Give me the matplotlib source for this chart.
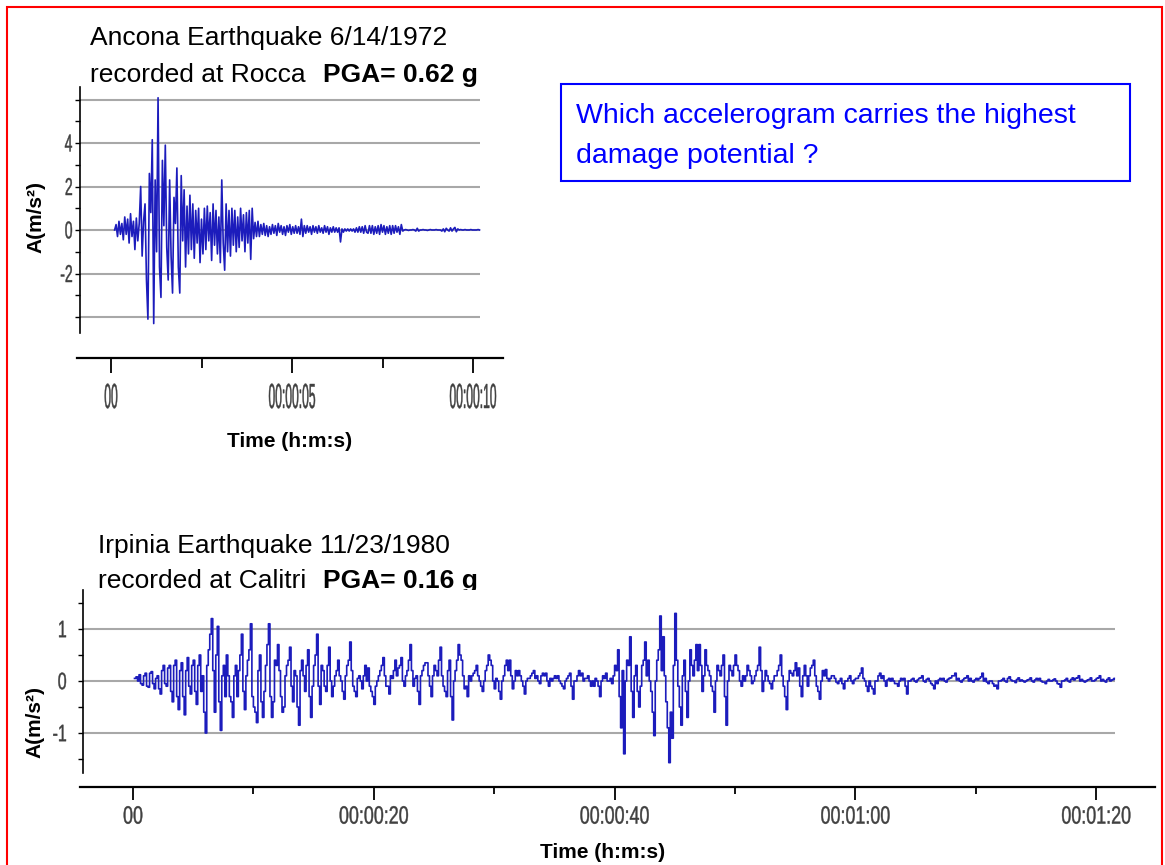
import numpy as np
import matplotlib
matplotlib.use("Agg")
import matplotlib.pyplot as plt
from matplotlib.font_manager import FontProperties
from matplotlib.patches import PathPatch, Rectangle
from matplotlib.textpath import TextPath
from matplotlib.transforms import Affine2D, IdentityTransform

plt.rcParams['font.family'] = ['Liberation Sans', 'DejaVu Sans']

W, H = 1165, 865
G = 9.81

# Ancona 6/14/1972, station Rocca -- acceleration in m/s^2, one sample every 0.04 s from t = 0.10 s
ancona_t0, ancona_dt = 0.10, 0.04
ancona_acc = [
    0.0, 0.25, -0.3, 0.4, -0.2, 0.3, -0.45, 0.6, -0.2, 0.5, -0.6, 0.75, -0.3, 0.4, -0.9, 0.55, -0.5, 0.3, 2.0, -1.2, 0.4, 1.2, -2.3, -4.1, 2.6,
    0.8, 4.15, -4.3, 2.3, -1.0, 6.08, -1.7, -3.1, 3.2, 0.2, 3.9, -0.8, -2.3, 2.3, -1.2, -2.9, 1.5, 0.3, 2.85, -1.7, -2.9, 2.5, -0.5, 1.85, -1.7,
    1.1, -1.1, 1.6, -0.9, 1.2, -1.3, 0.9, -0.6, 1.0, -1.5, 0.5, -1.1, 1.0, -0.9, 1.1, -0.5, 0.8, -1.4, 1.2, -0.7, 0.9, -1.1, 0.6, -1.5, 2.3,
    -0.6, -1.85, 1.2, -1.0, 0.9, -1.2, 1.0, -0.7, 0.9, -1.0, 0.6, -0.8, 1.0, -0.5, 0.7, -1.0, 0.8, -0.6, 0.9, -1.35, 1.0, -0.4, 0.35, -0.3, 0.4,
    -0.3, 0.25, -0.2, 0.3, -0.25, 0.2, -0.3, 0.15, -0.2, 0.25, -0.15, 0.2, -0.25, 0.3, -0.1, 0.2, -0.2, 0.15, -0.25, 0.2, -0.1, 0.25, -0.2, 0.15, -0.15,
    0.2, -0.15, 0.15, -0.2, 0.5, -0.3, 0.2, -0.15, 0.2, -0.1, 0.15, -0.2, 0.2, -0.1, 0.15, -0.15, 0.2, -0.1, 0.1, -0.15, 0.2, -0.1, 0.15, -0.2, 0.1,
    -0.1, 0.15, -0.1, 0.1, -0.1, 0.1, -0.55, 0.05, -0.1, 0.05, -0.05, 0.05, -0.05, 0.05, -0.05, 0.05, -0.1, 0.1, -0.1, 0.15, -0.1, 0.15, -0.15, 0.2, -0.1,
    -0.15, 0.2, -0.15, 0.2, -0.2, 0.15, -0.15, 0.2, -0.2, 0.25, -0.1, 0.2, -0.2, 0.15, -0.15, 0.2, -0.2, 0.2, -0.15, 0.2, -0.1, 0.15, -0.2, 0.25, -0.05,
    0.0, 0.02, 0.0, -0.02, 0.0, 0.0, 0.02, 0.0, -0.05, 0.08, -0.05, 0.0, 0.0, 0.02, 0.0, 0.0, -0.02, 0.0, 0.02, 0.0, 0.0, 0.0, 0.02, 0.0, 0.0,
    0.0, -0.05, 0.05, -0.08, 0.08, 0.0, -0.05, 0.1, -0.05, 0.05, 0.12, -0.08, 0.05, 0.0, 0.02, 0.0, 0.0, 0.02, 0.0, 0.0, 0.0, 0.02, 0.0, 0.0, 0.0,
    0.0, 0.02, 0.0,
]

# Irpinia 11/23/1980, station Calitri -- acceleration in m/s^2, one sample every 0.125 s from t = 0.125 s
# (one row = one second of record)
irpinia_t0, irpinia_dt = 0.125, 0.125
irpinia_acc = [
    0.05, 0.08, 0.0, 0.12, -0.05, -0.08, 0.1, 0.15,
    -0.1, -0.12, 0.15, 0.18, -0.05, -0.15, 0.05, 0.1,
    -0.15, -0.25, 0.2, 0.3, -0.05, -0.1, 0.25, 0.3,
    -0.2, -0.4, 0.3, 0.4, -0.3, -0.55, 0.2, 0.35,
    -0.3, -0.65, 0.2, 0.45, -0.1, -0.25, 0.3, 0.4,
    -0.2, -0.45, 0.3, 0.5, -0.2, 0.1, -0.6, -1.0,
    0.3, 0.6, 0.9, 1.2, 0.2, -0.6, 0.5, 1.05,
    -0.4, -0.95, 0.1, 0.3, -0.3, 0.5, 0.1, -0.3,
    -0.4, -0.7, 0.1, 0.3, -0.3, 0.2, 0.5, 0.9,
    -0.2, -0.55, 0.1, 0.4, 0.6, 1.1, -0.3, -0.5,
    # 10 s
    -0.6, -0.8, 0.2, 0.5, -0.4, -0.7, -0.2, 0.3,
    0.7, 1.1, -0.3, -0.7, -0.4, 0.4, 0.3, 0.7,
    0.2, -0.3, -0.6, -0.5, 0.1, 0.3, 0.4, 0.65,
    -0.1, -0.4, 0.2, 0.1, -0.5, -0.85, 0.2, 0.4,
    0.1, -0.2, 0.3, 0.6, -0.3, -0.7, -0.1, 0.3,
    0.5, 0.9, -0.1, -0.45, 0.3, 0.2, -0.1, -0.2,
    0.3, 0.65, 0.0, -0.3, -0.1, 0.1, 0.2, 0.4,
    0.1, 0.0, -0.2, -0.35, 0.1, 0.3, 0.4, 0.75,
    0.2, -0.1, -0.2, -0.3, 0.05, 0.1, 0.0, -0.15,
    0.1, 0.3, 0.0, 0.25, -0.1, -0.2, -0.3, -0.45,
    # 20 s
    -0.1, 0.0, 0.1, 0.2, 0.3, 0.45, 0.1, -0.1,
    -0.1, -0.25, 0.1, 0.05, 0.2, 0.4, 0.1, 0.25,
    0.3, 0.45, 0.0, -0.1, 0.1, 0.2, 0.4, 0.7,
    0.2, -0.1, 0.05, 0.1, -0.2, -0.45, 0.1, 0.2,
    0.3, 0.35, 0.35, 0.1, -0.1, -0.3, 0.1, 0.3,
    0.2, 0.1, 0.4, 0.65, 0.1, -0.1, -0.2, -0.3,
    0.2, 0.4, -0.3, -0.75, 0.0, 0.2, 0.4, 0.7,
    0.5, 0.4, 0.1, -0.15, -0.1, -0.3, 0.1, 0.0,
    0.1, 0.15, 0.2, 0.3, 0.1, 0.0, -0.1, -0.2,
    0.0, 0.2, 0.3, 0.5, 0.4, 0.3, 0.0, -0.15,
    # 30 s
    0.05, 0.0, -0.2, -0.35, 0.0, 0.1, 0.3, 0.4,
    0.2, 0.4, 0.1, -0.15, 0.0, 0.2, 0.1, 0.2,
    0.1, 0.0, -0.1, -0.25, 0.0, 0.05, 0.05, 0.1,
    0.15, 0.2, 0.05, 0.1, 0.0, -0.05, 0.1, 0.15,
    0.1, 0.15, 0.0, -0.1, 0.05, 0.0, 0.05, 0.1,
    0.05, 0.1, 0.0, -0.05, -0.1, -0.15, 0.0, 0.05,
    0.1, 0.15, -0.1, -0.35, 0.0, 0.0, 0.1, 0.2,
    0.1, 0.15, 0.0, 0.05, 0.05, 0.1, 0.0, -0.1,
    0.0, -0.1, 0.05, 0.0, -0.1, -0.3, 0.0, 0.1,
    0.05, 0.15, 0.0, 0.0, 0.05, -0.05, 0.1, 0.3,
    # 40 s
    0.2, 0.6, -0.3, -0.9, 0.2, -1.4, 0.0, 0.4,
    0.3, 0.85, -0.2, -0.7, 0.1, 0.3, -0.2, -0.5,
    -0.1, 0.3, 0.4, 0.75, 0.1, 0.4, 0.0, -0.2,
    -0.6, -1.05, 0.0, 0.4, 0.6, 1.25, 0.2, 0.85,
    0.1, -0.4, -0.9, -1.57, -0.6, -1.1, 0.3, 1.3,
    0.4, -0.1, -0.5, -0.85, 0.1, 0.4, -0.2, -0.7,
    0.0, 0.6, 0.3, 0.1, 0.4, 0.7, 0.2, 0.7,
    0.3, -0.2, 0.1, 0.6, 0.3, 0.2, 0.1, -0.1,
    -0.2, -0.6, 0.0, 0.3, 0.2, 0.1, 0.3, 0.5,
    -0.3, -0.85, 0.0, 0.3, 0.2, 0.1, 0.3, 0.5,
    # 50 s
    0.3, 0.2, 0.0, -0.1, 0.1, 0.0, 0.1, 0.3,
    0.2, 0.1, -0.05, 0.0, 0.1, 0.2, 0.3, 0.65,
    0.2, -0.2, 0.0, 0.2, 0.1, 0.0, -0.05, -0.15,
    0.0, 0.1, 0.1, 0.2, 0.3, 0.5, 0.1, -0.1,
    -0.3, -0.55, 0.0, 0.2, 0.15, 0.1, 0.2, 0.35,
    0.1, 0.25, -0.1, -0.3, 0.1, 0.3, 0.1, -0.1,
    0.1, 0.25, 0.3, 0.4, 0.1, -0.1, -0.2, -0.35,
    0.0, 0.2, 0.1, 0.22, 0.05, 0.0, 0.05, 0.1,
    0.1, 0.05, -0.02, -0.05, 0.0, 0.05, -0.05, -0.15,
    0.0, 0.0, 0.05, 0.1, 0.0, -0.05, 0.02, 0.05,
    # 60 s
    0.05, 0.1, 0.15, 0.25, 0.05, 0.0, -0.1, -0.2,
    0.0, -0.1, -0.15, -0.25, 0.0, 0.0, 0.1, 0.15,
    0.05, 0.1, 0.0, -0.1, 0.02, 0.05, 0.0, 0.05,
    0.0, -0.05, -0.05, -0.1, 0.0, 0.05, 0.02, 0.05,
    -0.1, -0.25, 0.0, 0.0, 0.03, 0.05, 0.0, -0.02,
    0.02, 0.05, 0.06, 0.1, 0.0, -0.02, 0.03, 0.05,
    0.0, -0.05, -0.08, -0.15, 0.0, -0.05, 0.02, 0.05,
    0.02, 0.05, 0.0, -0.02, 0.03, 0.05, 0.06, 0.1,
    0.1, 0.15, 0.02, 0.05, 0.0, -0.02, 0.02, 0.05,
    0.06, 0.1, 0.0, 0.05, 0.0, -0.02, 0.02, 0.05,
    # 70 s
    0.02, 0.05, 0.08, 0.15, 0.0, 0.05, -0.02, -0.05,
    0.0, 0.0, -0.05, -0.1, -0.08, -0.15, 0.0, 0.0,
    0.02, 0.05, 0.0, -0.02, 0.05, 0.08, 0.02, 0.0,
    0.0, -0.03, 0.03, 0.06, 0.0, 0.02, 0.0, -0.02,
    0.0, 0.02, 0.03, 0.06, 0.0, -0.02, 0.02, 0.05,
    0.02, 0.05, 0.0, -0.02, -0.02, -0.05, 0.0, 0.03,
    0.0, 0.0, 0.02, 0.04, 0.0, -0.05, -0.06, -0.12,
    0.0, 0.0, 0.02, 0.05, 0.0, -0.02, 0.03, 0.06,
    0.02, 0.05, 0.06, 0.1, 0.0, 0.03, 0.0, -0.02,
    0.0, 0.02, 0.03, 0.06, 0.0, 0.0, 0.02, 0.05,
    # 80 s
    0.06, 0.1, 0.0, 0.03, 0.0, -0.02, 0.03, 0.06,
    0.0, 0.02, 0.03, 0.05,
]

top_major = [0, 5, 10]
top_minor = [2.5, 7.5]
top_yticks = [-4, -3, -2, -1, 0, 1, 2, 3, 4, 5, 6]
top_ylabels = [4, 2, 0, -2]
top_grid = [6, 4, 2, 0, -2, -4]

bot_major = [0, 20, 40, 60, 80]
bot_minor = [10, 30, 50, 70]
bot_yticks = [-1.5, -1, -0.5, 0, 0.5, 1, 1.5]
bot_ylabels = [1, 0, -1]
bot_grid = [1, 0, -1]

TRACE = '#1c1cbc'
GRID = '#a8a8a8'
TICKTXT = '#404040'
tick_font = FontProperties(family='Liberation Sans')


def hms(sec):
    if sec == 0:
        return '00'
    sec = int(round(sec))
    return f'{sec // 3600:02d}:{sec // 60 % 60:02d}:{sec % 60:02d}'


def squeezed(fig, s, x, y, sx, sy, ha='center'):
    # tall, narrow tick text drawn as a path; x, y in display pixels
    path = TextPath((0, 0), s, size=1, prop=tick_font)
    ext = path.get_extents()
    dx = -ext.x1 if ha == 'right' else -(ext.x0 + ext.x1) / 2
    dy = -(ext.y0 + ext.y1) / 2
    tr = Affine2D().translate(dx, dy).scale(sx, sy).translate(x, y)
    fig.add_artist(PathPatch(tr.transform_path(path), transform=IdentityTransform(),
                             fc=TICKTXT, ec=TICKTXT, lw=0.3))


def panel(fig, box, origin, px_s, px_u, spine_x, spine_top, spine_bot, grid_x1):
    l, t, r, b = box
    ax = fig.add_axes([l / W, 1 - b / H, (r - l) / W, (b - t) / H])
    ax.set_xlim((l - origin[0]) / px_s, (r - origin[0]) / px_s)
    ax.set_ylim((origin[1] - b) / px_u, (origin[1] - t) / px_u)
    ax.patch.set_facecolor('white')
    for s in ['top', 'right']:
        ax.spines[s].set_visible(False)
    x_sp = (spine_x - origin[0]) / px_s
    ax.spines['left'].set_position(('data', x_sp))
    ax.spines['left'].set_bounds((origin[1] - spine_bot) / px_u, (origin[1] - spine_top) / px_u)
    ax.spines['left'].set_linewidth(1.2)
    ax.spines['bottom'].set_linewidth(1.6)
    ax.grid_x = (x_sp, (grid_x1 - origin[0]) / px_s)
    return ax


fig = plt.figure(figsize=(W / 100, H / 100), dpi=100)

# ---------------- Ancona record ----------------
ax1 = panel(fig, (77, 87, 503, 358), (111, 230), 36.2, 21.75, 80, 87, 333, 480)
ax1.hlines(top_grid, *ax1.grid_x, colors=GRID, lw=1.5, zorder=1)
t1 = ancona_t0 + ancona_dt * np.arange(len(ancona_acc))
ax1.plot(t1, ancona_acc, color=TRACE, lw=1.2, zorder=3)
ax1.set_xticks(top_major)
ax1.set_xticks(top_minor, minor=True)
ax1.set_yticks(top_yticks)
ax1.tick_params(axis='x', which='major', length=11, width=1.3, labelbottom=False)
ax1.tick_params(axis='x', which='minor', length=7, width=1.3)
ax1.tick_params(axis='y', length=3.6, width=1.0, labelleft=False)

# ---------------- Irpinia record ----------------
ax2 = panel(fig, (80, 590, 1155, 787), (133, 681), 12.04, 52.0, 83, 590, 773, 1115)
ax2.set_zorder(5)
ax2.hlines(bot_grid, *ax2.grid_x, colors=GRID, lw=1.5, zorder=1)
t2 = irpinia_t0 + irpinia_dt * np.arange(len(irpinia_acc))
ax2.plot(t2, irpinia_acc, color=TRACE, lw=1.2, drawstyle='steps-post', zorder=3)
ax2.set_xticks(bot_major)
ax2.set_xticks(bot_minor, minor=True)
ax2.set_yticks(bot_yticks)
ax2.tick_params(axis='x', which='major', length=9, width=1.3, labelbottom=False)
ax2.tick_params(axis='x', which='minor', length=5, width=1.3)
ax2.tick_params(axis='y', length=3.6, width=1.0, labelleft=False)

# tick labels, squeezed like the recorder output
for tk in top_major:
    x, _ = ax1.transData.transform((tk, 0))
    squeezed(fig, hms(tk), x, H - 396, 12.1, 34.9)
for v in top_ylabels:
    _, y = ax1.transData.transform((0, v))
    squeezed(fig, str(v), 72, y, 14, 24.4, ha='right')
for tk in bot_major:
    x, _ = ax2.transData.transform((tk, 0))
    squeezed(fig, hms(tk), x, H - 815, 17.9, 25.1)
for v in bot_ylabels:
    _, y = ax2.transData.transform((0, v))
    squeezed(fig, str(v), 66, y, 16, 23.7, ha='right')


def px(x, y):
    return x / W, 1 - y / H


# titles; PGA taken from the peak of each record
pga1 = np.max(np.abs(ancona_acc)) / G
pga2 = np.max(np.abs(irpinia_acc)) / G
fig.text(*px(90, 45), 'Ancona Earthquake 6/14/1972', fontsize=19, va='baseline')
fig.text(*px(90, 82), 'recorded at Rocca', fontsize=19, va='baseline')
fig.text(*px(323, 82), f'PGA= {pga1:.2f} g', fontsize=19, fontweight='bold', va='baseline')
fig.text(*px(98, 553), 'Irpinia Earthquake 11/23/1980', fontsize=19, va='baseline')
fig.text(*px(98, 588), 'recorded at Calitri', fontsize=19, va='baseline')
fig.text(*px(323, 588), f'PGA= {pga2:.2f} g', fontsize=19, fontweight='bold', va='baseline')

# axis titles
fig.text(*px(36, 217), 'A(m/s²)', fontsize=15, fontweight='bold', rotation=90, ha='center', va='center')
fig.text(*px(35, 722), 'A(m/s²)', fontsize=15, fontweight='bold', rotation=90, ha='center', va='center')
fig.text(*px(290, 447), 'Time (h:m:s)', fontsize=15, fontweight='bold', ha='center', va='baseline')
fig.text(*px(603, 858), 'Time (h:m:s)', fontsize=15, fontweight='bold', ha='center', va='baseline')

# question box
fig.add_artist(Rectangle(px(561, 181), (1130 - 561) / W, (181 - 84) / H, transform=fig.transFigure,
                         fill=False, ec='#0000ff', lw=1.5))
fig.text(*px(576, 123), 'Which accelerogram carries the highest', fontsize=20.5, color='#0000ff', va='baseline')
fig.text(*px(576, 163), 'damage potential ?', fontsize=20.5, color='#0000ff', va='baseline')

# red frame
fig.add_artist(Rectangle(px(7, 867), (1162 - 7) / W, (867 - 7) / H, transform=fig.transFigure,
                         fill=False, ec='#ff0000', lw=1.5, zorder=10))

fig.savefig('out.png', dpi=100)
